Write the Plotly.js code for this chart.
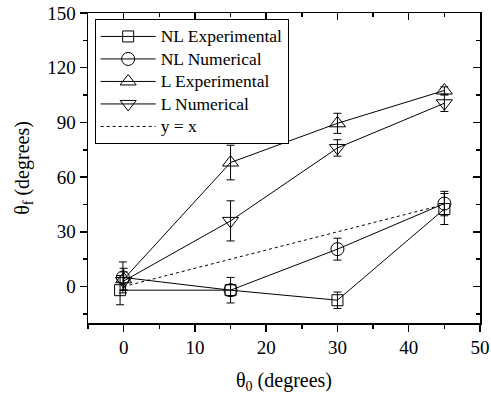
<!DOCTYPE html>
<html><head><meta charset="utf-8">
<script src="https://cdn.plot.ly/plotly-3.0.1.min.js"></script></head>
<body style="margin:0;padding:0;background:#fff"><div id="plot" style="width:491px;height:394px"></div>
<script>
// Data
const nlExpX = [-0.5, 15, 30, 45];
const nlExpY = [-2, -2, -7.5, 42.5];
const nlExpErr = [8, 3, 4.5, 8.5];

const nlNumX = [-0.1, 15, 30, 45];
const nlNumY = [5, -2, 20.5, 45.5];
const nlNumErr = [8.5, 7, 6, 6.7];

const lExpX = [0, 15, 30, 45];
const lExpY = [4, 68, 89.5, 107.5];
const lExpErr = [6, 9.5, 5.5, 2];

const lNumX = [0, 15, 30, 45];
const lNumY = [3, 36, 76, 100.5];
const lNumErr = [5, 11, 4.5, 4.5];

const refX = [0, 45];
const refY = [0, 45];

const names = ["NL Experimental", "NL Numerical", "L Experimental", "L Numerical", "y = x"];

const FONT = "Times New Roman";
const big = s => '<span style="font-size:17.5px">' + s + '</span>';

function errTrace(x, y, err, name, symbol, size) {
  return {
    x: x, y: y, name: big(name), type: "scatter", mode: "lines+markers",
    line: {color: "#000", width: 1},
    marker: {symbol: symbol, size: size, color: "#000", line: {color: "#000", width: 1}},
    error_y: {type: "data", array: err, visible: true, color: "#000", thickness: 1, width: 4}
  };
}

const data = [
  errTrace(nlExpX, nlExpY, nlExpErr, names[0], "square-open", 11),
  errTrace(nlNumX, nlNumY, nlNumErr, names[1], "circle-open", 13),
  errTrace(lExpX, lExpY, lExpErr, names[2], "triangle-up-open", 14),
  errTrace(lNumX, lNumY, lNumErr, names[3], "triangle-down-open", 14),
  {x: refX, y: refY, name: big(names[4]), type: "scatter", mode: "lines",
   line: {color: "#000", width: 1, dash: "dot"}},
  {x: [null], y: [null], xaxis: "x2", yaxis: "y2", showlegend: false, hoverinfo: "skip", type: "scatter", mode: "markers"}
];

const layout = {
  width: 491, height: 394,
  margin: {l: 88, r: 11, t: 13, b: 71},
  paper_bgcolor: "#fff", plot_bgcolor: "#fff",
  font: {family: FONT, size: 16, color: "#000"},
  showlegend: true,
  legend: {
    x: 0.017, y: 0.98, xanchor: "left", yanchor: "top",
    bordercolor: "#000", borderwidth: 1, bgcolor: "#fff",
    font: {family: FONT, size: 15, color: "#000"},
    itemwidth: 55, tracegroupgap: 0
  },
  xaxis: {
    showgrid: false, zeroline: false, showline: true, linecolor: "#000", linewidth: 1.5,
    ticks: "outside", ticklen: 7, tickwidth: 1.5, tickcolor: "#000",
    tickfont: {family: FONT, size: 19, color: "#000"},
    range: [-5, 50], tickvals: [0, 10, 20, 30, 40, 50],
    minor: {tickvals: [-5, 5, 15, 25, 35, 45], ticklen: 4, tickwidth: 1.5, tickcolor: "#000", ticks: "outside"},
    title: {text: "θ<sub>0</sub> (degrees)", font: {family: FONT, size: 20, color: "#000"}, standoff: 18}
  },
  yaxis: {
    showgrid: false, zeroline: false, showline: true, linecolor: "#000", linewidth: 1.5,
    ticks: "outside", ticklen: 7, tickwidth: 1.5, tickcolor: "#000",
    tickfont: {family: FONT, size: 19, color: "#000"},
    range: [-20, 150], tickvals: [0, 30, 60, 90, 120, 150],
    minor: {tickvals: [-15, 15, 45, 75, 105, 135], ticklen: 4, tickwidth: 1.5, tickcolor: "#000", ticks: "outside"},
    title: {text: "θ<sub>f</sub> (degrees)", font: {family: FONT, size: 20, color: "#000"}, standoff: 12}
  },
  xaxis2: {
    overlaying: "x", side: "top", range: [-5, 50], showgrid: false, zeroline: false,
    showline: true, linecolor: "#000", linewidth: 1.5,
    ticks: "inside", ticklen: 7, tickwidth: 1.5, tickcolor: "#000", showticklabels: false,
    tickvals: [0, 10, 20, 30, 40, 50],
    minor: {tickvals: [-5, 5, 15, 25, 35, 45], ticklen: 4, tickwidth: 1.5, tickcolor: "#000", ticks: "inside"}
  },
  yaxis2: {
    overlaying: "y", side: "right", range: [-20, 150], showgrid: false, zeroline: false,
    showline: true, linecolor: "#000", linewidth: 1.5,
    ticks: "inside", ticklen: 7, tickwidth: 1.5, tickcolor: "#000", showticklabels: false,
    tickvals: [0, 30, 60, 90, 120, 150],
    minor: {tickvals: [-15, 15, 45, 75, 105, 135], ticklen: 4, tickwidth: 1.5, tickcolor: "#000", ticks: "inside"}
  }
};

Plotly.newPlot("plot", data, layout, {displayModeBar: false, staticPlot: true});
</script></body></html>
